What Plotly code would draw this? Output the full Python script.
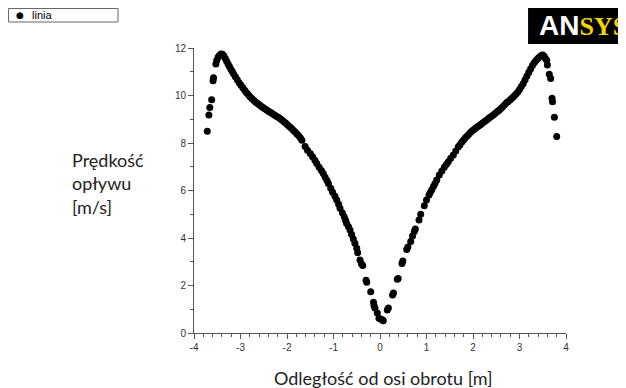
import plotly.graph_objects as go

# Left branch (x in m, speed in m/s)
x_left = [-3.714, -3.68, -3.66, -3.62, -3.59, -3.58, -3.53, -3.51, -3.48, -3.45, -3.42, -3.39,
          -3.36, -3.33, -3.30, -3.27, -3.24, -3.21, -3.18, -3.15, -3.11, -3.07, -3.03, -2.99,
          -2.95, -2.91, -2.87, -2.83, -2.79, -2.75, -2.71, -2.67, -2.63, -2.59, -2.55, -2.51,
          -2.47, -2.43, -2.39, -2.35, -2.31, -2.27, -2.23, -2.19, -2.15, -2.11, -2.07, -2.03,
          -1.99, -1.95, -1.91, -1.87, -1.83, -1.79, -1.75, -1.71, -1.68, -1.61, -1.56, -1.50,
          -1.45, -1.40, -1.36, -1.31, -1.26, -1.22, -1.18, -1.14, -1.11, -1.06, -1.02, -0.97,
          -0.93, -0.89, -0.86, -0.81, -0.77, -0.74, -0.72, -0.68, -0.645, -0.61, -0.574, -0.54,
          -0.50, -0.48, -0.43, -0.40, -0.372, -0.30, -0.286, -0.20, -0.14, -0.129, -0.11,
          -0.058, -0.022, 0.02, 0.058]
y_left = [8.50, 9.18, 9.50, 9.82, 10.62, 10.75, 11.33, 11.48, 11.62, 11.70, 11.75, 11.74,
          11.67, 11.57, 11.45, 11.34, 11.23, 11.12, 11.02, 10.92, 10.79, 10.66, 10.54, 10.43,
          10.33, 10.22, 10.12, 10.03, 9.94, 9.86, 9.79, 9.72, 9.66, 9.60, 9.54, 9.48,
          9.43, 9.38, 9.33, 9.28, 9.23, 9.18, 9.13, 9.08, 9.03, 8.97, 8.91, 8.84,
          8.77, 8.70, 8.63, 8.55, 8.47, 8.39, 8.30, 8.21, 8.12, 7.85, 7.70, 7.56,
          7.42, 7.27, 7.14, 6.98, 6.84, 6.72, 6.56, 6.42, 6.30, 6.10, 5.93, 5.76,
          5.60, 5.42, 5.25, 5.06, 4.90, 4.75, 4.62, 4.48, 4.34, 4.15, 3.96, 3.78,
          3.57, 3.38, 3.07, 2.92, 2.84, 2.22, 2.14, 1.74, 1.30, 1.15, 1.05,
          0.84, 0.62, 0.58, 0.55]

# Right branch
x_right = [0.07, 0.157, 0.18, 0.27, 0.29, 0.372, 0.39, 0.473, 0.49, 0.574, 0.60, 0.66, 0.70,
           0.738, 0.76, 0.839, 0.875, 0.953, 1.00, 1.054, 1.08, 1.11, 1.15, 1.183, 1.22, 1.275,
           1.33, 1.383, 1.43, 1.469, 1.52, 1.577, 1.63, 1.685, 1.72, 1.76, 1.80, 1.84, 1.88,
           1.92, 1.96, 2.00, 2.04, 2.08, 2.12, 2.16, 2.20, 2.24, 2.28, 2.32, 2.36, 2.40, 2.44,
           2.48, 2.52, 2.56, 2.60, 2.64, 2.68, 2.72, 2.76, 2.80, 2.84, 2.88, 2.92, 2.96, 3.00,
           3.04, 3.08, 3.12, 3.16, 3.20, 3.24, 3.28, 3.32, 3.36, 3.40, 3.44, 3.48, 3.50, 3.53,
           3.56, 3.585, 3.60, 3.64, 3.67, 3.70, 3.71, 3.75, 3.80]
y_right = [0.52, 0.97, 1.05, 1.60, 1.68, 2.26, 2.30, 2.93, 3.03, 3.52, 3.62, 3.85, 4.08,
           4.27, 4.38, 4.76, 5.00, 5.36, 5.60, 5.81, 5.92, 6.02, 6.17, 6.30, 6.44, 6.65,
           6.82, 6.98, 7.11, 7.21, 7.36, 7.49, 7.66, 7.84, 7.93, 8.04, 8.14, 8.23, 8.31,
           8.39, 8.47, 8.54, 8.60, 8.66, 8.72, 8.77, 8.83, 8.89, 8.95, 9.01, 9.07, 9.13, 9.19,
           9.25, 9.32, 9.38, 9.45, 9.53, 9.61, 9.69, 9.75, 9.82, 9.89, 9.97, 10.05, 10.14, 10.25,
           10.38, 10.51, 10.66, 10.82, 10.98, 11.13, 11.27, 11.39, 11.48, 11.57, 11.64, 11.70, 11.71, 11.65,
           11.55, 11.48, 11.28, 10.90, 10.72, 9.88, 9.74, 9.08, 8.27]

x_vals = x_left + x_right
y_vals = y_left + y_right

series_name = "linia"
x_title = "Odległość od osi obrotu [m]"
y_title_lines = ["Prędkość", "opływu", "[m/s]"]
x_ticks = [-4, -3, -2, -1, 0, 1, 2, 3, 4]
y_ticks = [0, 2, 4, 6, 8, 10, 12]

fig = go.Figure()
fig.add_trace(go.Scatter(
    x=x_vals, y=y_vals, mode="markers", name=series_name,
    marker=dict(color="black", size=7, line=dict(width=0)),
    showlegend=False,
))

axis_common = dict(
    showgrid=False, zeroline=False, showline=True, linecolor="#555", linewidth=1,
    ticks="outside", ticklen=5, tickcolor="#555", tickwidth=1, automargin=False,
    tickfont=dict(family="Liberation Sans, Arial", size=10, color="#333"),
)

# page has an 8px body margin, so the figure is sized to the visible area
fig.update_layout(
    width=618, height=380,
    margin=dict(l=186, r=60, t=40, b=55),
    plot_bgcolor="white", paper_bgcolor="white",
    showlegend=False,
    xaxis=dict(range=[-4, 4], tickvals=x_ticks, ticktext=[str(v) for v in x_ticks],
               minor=dict(dtick=0.2, ticks="outside", ticklen=3, tickcolor="#555"),
               **axis_common),
    yaxis=dict(range=[0, 12], tickvals=y_ticks, ticktext=[str(v) for v in y_ticks],
               minor=dict(dtick=1, ticks="outside", ticklen=3, tickcolor="#555"),
               **axis_common),
)

# Axis titles
fig.add_annotation(
    xref="paper", yref="paper", x=0.508, y=-0.158, xanchor="center", yanchor="middle",
    text=x_title, showarrow=False,
    font=dict(family="Lato, Open Sans", size=18, color="#222"),
)
fig.add_annotation(
    xref="paper", yref="paper", x=-0.333, y=0.526, xanchor="left", yanchor="middle",
    text="<br>".join(y_title_lines), showarrow=False, align="left",
    font=dict(family="Lato, Open Sans", size=18, color="#222"),
)

# Legend box (top-left)
fig.add_shape(type="rect", xref="paper", yref="paper",
              x0=-0.4987, x1=-0.2043, y0=1.0912, y1=1.1386,
              fillcolor="white", line=dict(color="#666", width=1))
fig.add_annotation(
    xref="paper", yref="paper", x=-0.4677, y=1.1158, xanchor="center", yanchor="middle",
    text="●", showarrow=False,
    font=dict(family="DejaVu Sans", size=9, color="black"),
)
fig.add_annotation(
    xref="paper", yref="paper", x=-0.44, y=1.1158, xanchor="left", yanchor="middle",
    text=series_name, showarrow=False,
    font=dict(family="Liberation Sans, Arial", size=11, color="black"),
)

# ANSYS logo
fig.add_shape(type="rect", xref="paper", yref="paper",
              x0=0.898, x1=1.17, y0=1.014, y1=1.144,
              fillcolor="black", line=dict(width=0), layer="above")
fig.add_annotation(
    xref="paper", yref="paper", x=0.922, y=1.08, xanchor="left", yanchor="middle",
    text="<span style='color:white;font-family:Liberation Sans;font-size:28px'>AN</span>"
         "<span style='color:#f2d400;font-family:Liberation Serif;font-size:26px'>SYS</span>",
    showarrow=False,
    font=dict(family="Liberation Sans, Arial", size=26, color="white", weight="bold"),
)

fig.write_html("out.html")
